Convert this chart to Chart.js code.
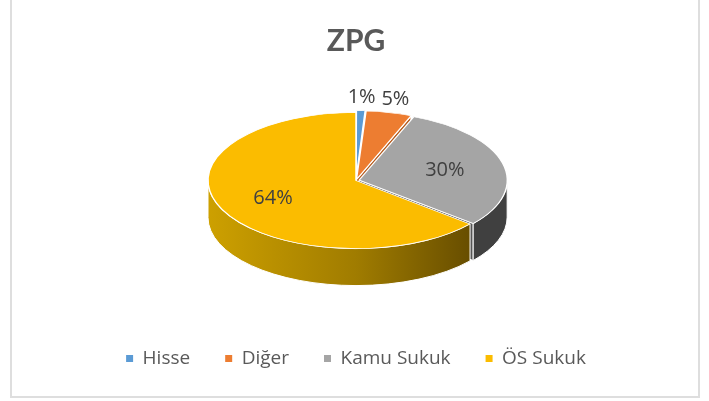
<!DOCTYPE html>
<html>
<head>
<meta charset="utf-8">
<script src="https://cdn.jsdelivr.net/npm/chart.js@4.4.0/dist/chart.umd.min.js"></script>
<style>
  html, body { margin: 0; padding: 0; background: #fff; }
  #wrap { position: relative; width: 709px; height: 401px; overflow: hidden; }
  #zpgChart { display: block; }
  #frame { position: absolute; left: 10px; top: -3px; width: 690px; height: 401px;
           border: 2px solid #dedede; box-sizing: border-box; pointer-events: none; }
</style>
</head>
<body>
<div id="wrap">
  <canvas id="zpgChart" width="709" height="401"></canvas>
  <div id="frame"></div>
</div>
<script>
// data
const categories = ['Hisse', 'Diğer', 'Kamu Sukuk', 'ÖS Sukuk'];
const shares = [1, 5, 30, 64];

// looks
const sliceColors = ['#5b9bd5', '#ed7d31', '#a5a5a5', '#fbbc00'];
const faceColors = ['#3f73a3', '#b45a1c', '#555555', '#a07800'];
const sideColors = ['#35628c', '#9c4d17', '#404040', null];
const explode = [8, 8, 13, 0];
const TILT = 0.46;
const DEPTH = 37;
const textFont = '"Open Sans", Lato, sans-serif';

Chart.defaults.font.family = textFont;

function sideFill(ctx, i, x, r) {
    if (sideColors[i]) return sideColors[i];
    let g = ctx.createLinearGradient(x - r, 0, x + r, 0);
    g.addColorStop(0, '#cda000');
    g.addColorStop(0.5, '#a07c00');
    g.addColorStop(1, '#574000');
    return g;
}

const tilt3d = {
    id: 'tilt3d',
    beforeDatasetsDraw(chart) {
        const ctx = chart.ctx;
        const arcs = chart.getDatasetMeta(0).data;
        const cy = arcs[0].y;
        let geo = arcs.map((el, i) => {
            const mid = (el.startAngle + el.endAngle) / 2;
            const shift = (el.options.offset || 0) / 4;
            return {
                s: el.startAngle, e: el.endAngle, r: el.outerRadius,
                x: el.x + Math.cos(mid) * shift,
                y: el.y + Math.sin(mid) * shift * TILT
            };
        });

        // cut faces of the slices
        geo.forEach((g, i) => {
            [[g.e, Math.cos(g.e) > 0.05], [g.s, Math.cos(g.s) < -0.05]].forEach(([a, vis]) => {
                if (!vis) return;
                const px = g.x + g.r * Math.cos(a), py = g.y + g.r * TILT * Math.sin(a);
                ctx.beginPath();
                ctx.moveTo(g.x, g.y);
                ctx.lineTo(px, py);
                ctx.lineTo(px, py + DEPTH);
                ctx.lineTo(g.x, g.y + DEPTH);
                ctx.closePath();
                ctx.fillStyle = faceColors[i];
                ctx.fill();
                ctx.strokeStyle = '#fff';
                ctx.lineWidth = 1;
                ctx.stroke();
            });
        });

        // outer walls, front half only
        geo.forEach((g, i) => {
            for (let k = -1; k <= 1; k++) {
                const lo = Math.max(g.s, 2 * Math.PI * k);
                const hi = Math.min(g.e, 2 * Math.PI * k + Math.PI);
                if (hi <= lo) continue;
                ctx.beginPath();
                ctx.ellipse(g.x, g.y, g.r, g.r * TILT, 0, lo, hi);
                ctx.ellipse(g.x, g.y + DEPTH, g.r, g.r * TILT, 0, hi, lo, true);
                ctx.closePath();
                ctx.fillStyle = sideFill(ctx, i, g.x, g.r);
                ctx.fill();
                ctx.strokeStyle = '#fff';
                ctx.lineWidth = 1;
                ctx.stroke();
            }
        });

        ctx.save();
        ctx.translate(0, cy);
        ctx.scale(1, TILT);
        ctx.translate(0, -cy);
    },
    afterDatasetsDraw(chart) {
        const ctx = chart.ctx;
        ctx.restore();
        const arcs = chart.getDatasetMeta(0).data;
        ctx.save();
        ctx.font = '20px ' + textFont;
        ctx.fillStyle = '#404040';
        ctx.textAlign = 'center';
        ctx.textBaseline = 'middle';
        arcs.forEach((el, i) => {
            const mid = (el.startAngle + el.endAngle) / 2;
            const f = shares[i] < 10 ? 1.22 : 0.62;
            const lx = el.x + Math.cos(mid) * el.outerRadius * f;
            const ly = el.y + Math.sin(mid) * el.outerRadius * f * TILT;
            ctx.fillText(shares[i] + '%', lx, ly);
        });
        ctx.restore();
    }
};

const ctx = document.getElementById('zpgChart');

new Chart(ctx, {
    type: 'pie',
    data: {
        labels: categories,
        datasets: [{
            data: shares,
            backgroundColor: sliceColors,
            borderColor: '#ffffff',
            borderWidth: 1.5,
            offset: explode,
            radius: 148,
            clip: false
        }]
    },
    options: {
        responsive: false,
        animation: false,
        events: [],
        radius: 148,
        layout: {
            padding: { left: 3, bottom: 23 }
        },
        plugins: {
            title: {
                display: true,
                text: 'ZPG',
                color: '#595959',
                font: { size: 30, weight: 'bold', family: 'Lato, "Open Sans", sans-serif' },
                padding: { top: 23, bottom: -12 }
            },
            legend: {
                position: 'bottom',
                labels: {
                    boxWidth: 7,
                    boxHeight: 7,
                    padding: 35,
                    color: '#595959',
                    font: { size: 19 },
                    generateLabels: function(chart) {
                        let items = Chart.overrides.pie.plugins.legend.labels.generateLabels(chart);
                        items.forEach(it => { it.lineWidth = 0; });
                        return items;
                    }
                }
            },
            tooltip: { enabled: false }
        }
    },
    plugins: [tilt3d]
});
</script>
</body>
</html>
